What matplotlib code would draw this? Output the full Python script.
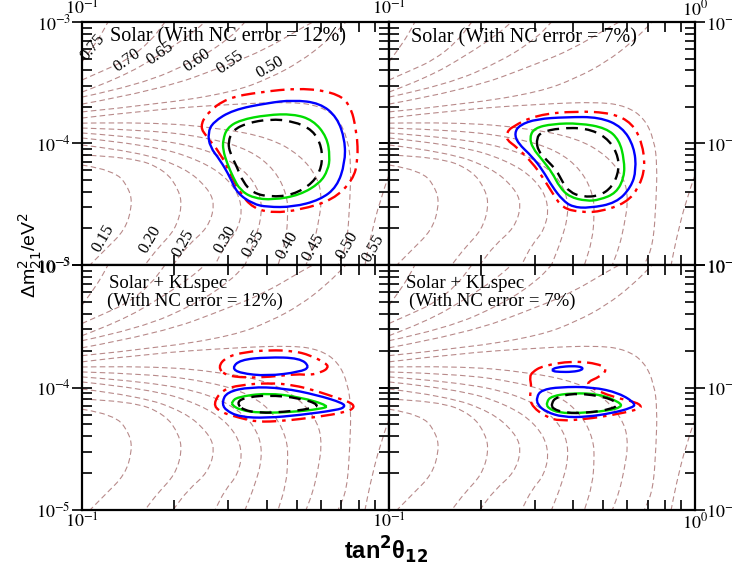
import numpy as np
import matplotlib
matplotlib.use("Agg")
import matplotlib.pyplot as plt
from matplotlib.path import Path
from matplotlib.patches import PathPatch
from matplotlib.ticker import FixedLocator, LogLocator, NullFormatter, FuncFormatter

plt.rcParams['font.family'] = ['Liberation Serif', 'DejaVu Serif']
plt.rcParams['mathtext.fontset'] = 'stix'

# iso-lignes de fond (tan^2 theta12, dm^2_21), identiques dans les 4 panneaux
iso_x = [
    [0.100, 0.1086, 0.1153, 0.1215],
    [0.100, 0.1188, 0.1402, 0.1665, 0.1864],
    [0.100, 0.1330, 0.1795, 0.2248, 0.2515],
    [0.100, 0.1545, 0.2370, 0.3035, 0.3396],
    [0.100, 0.1795, 0.3035, 0.3975, 0.5129, 0.5655],
    [0.100, 0.1795, 0.3104, 0.4096, 0.5129, 0.6234, 0.7244],
    [0.100, 0.1665, 0.3104, 0.4868, 0.5960, 0.6823, 0.7353, 0.7520, 0.7464, 0.7298, 0.6823],
    [0.100, 0.1665, 0.2817, 0.4096, 0.5129, 0.5871, 0.6050, 0.5871, 0.5655, 0.5366],
    [0.100, 0.1665, 0.2612, 0.3524, 0.4255, 0.4654, 0.4688, 0.4619, 0.4351],
    [0.100, 0.1665, 0.2612, 0.3396, 0.3801, 0.3858, 0.3661, 0.3396],
    [0.100, 0.1665, 0.2423, 0.3035, 0.3345, 0.3222, 0.2924, 0.2712],
    [0.100, 0.1545, 0.2166, 0.2570, 0.2712, 0.2570, 0.2215, 0.1979],
    [0.100, 0.1455, 0.1864, 0.2070, 0.2117, 0.2009, 0.1768, 0.1603],
    [0.100, 0.1281, 0.1434, 0.1455, 0.1380, 0.1188, 0.1062],
    [1.000, 0.9348, 0.8670, 0.8353],
]
iso_y = [
    [4.69e-4, 6.22e-4, 7.82e-4, 1e-3],
    [3.33e-4, 4.03e-4, 4.87e-4, 6.84e-4, 1e-3],
    [2.65e-4, 3.46e-4, 5.35e-4, 7.82e-4, 1e-3],
    [2.41e-4, 3.03e-4, 4.87e-4, 7.38e-4, 1e-3],
    [2.11e-4, 2.76e-4, 4.51e-4, 5.99e-4, 8.76e-4, 1e-3],
    [1.82e-4, 2.11e-4, 2.65e-4, 3.46e-4, 4.69e-4, 6.84e-4, 1e-3],
    [1.62e-4, 1.89e-4, 2.11e-4, 2.20e-4, 2.03e-4, 1.62e-4, 1.07e-4, 6.65e-5, 3.43e-5, 1.46e-5, 1e-5],
    [1.47e-4, 1.50e-4, 1.34e-4, 1.11e-4, 8.04e-5, 5.20e-5, 3.43e-5, 2.13e-5, 1.41e-5, 1e-5],
    [1.34e-4, 1.29e-4, 1.11e-4, 8.84e-5, 6.05e-5, 3.77e-5, 2.58e-5, 1.61e-5, 1e-5],
    [1.22e-4, 1.11e-4, 8.84e-5, 6.05e-5, 3.99e-5, 2.58e-5, 1.61e-5, 1e-5],
    [1.11e-4, 9.72e-5, 7.31e-5, 5.01e-5, 3.12e-5, 1.94e-5, 1.46e-5, 1e-5],
    [9.72e-5, 8.51e-5, 6.28e-5, 4.30e-5, 3.12e-5, 2.02e-5, 1.46e-5, 1e-5],
    [8.04e-5, 7.74e-5, 6.05e-5, 4.14e-5, 3.00e-5, 1.94e-5, 1.38e-5, 1e-5],
    [6.65e-5, 6.05e-5, 4.14e-5, 3.00e-5, 1.94e-5, 1.33e-5, 1e-5],
    [5.50e-5, 3.43e-5, 1.61e-5, 1e-5],
]

# etiquettes des iso-lignes (panneau haut gauche seulement)
lab_txt = ["0.75", "0.70", "0.65", "0.60", "0.55", "0.50",
           "0.15", "0.20", "0.25", "0.30", "0.35", "0.40", "0.45", "0.50", "0.55"]
lab_x = [0.1086, 0.1402, 0.1795, 0.2370, 0.3035, 0.4096,
         0.1171, 0.1665, 0.2133, 0.2924, 0.3606, 0.4654, 0.5655, 0.7298, 0.8871]
lab_y = [6.22e-4, 4.87e-4, 5.56e-4, 4.87e-4, 4.69e-4, 4.26e-4,
         1.67e-5, 1.61e-5, 1.52e-5, 1.61e-5, 1.52e-5, 1.46e-5, 1.41e-5, 1.46e-5, 1.38e-5]
lab_rot = [50, 35, 35, 35, 35, 30, 60, 60, 60, 60, 60, 60, 60, 60, 60]

# contours permis: rouge (tiret-point), bleu, vert, noir (tirets)
# panneau haut gauche : Solar, NC 12%
tl_red_x = [.2423, .2553, .2967, .3801, .5129, .6569, .7464, .7868, .7925, .7635, .6569, .5129, .4190, .3606, .3271, .3035, .2817, .2553]
tl_red_y = [1.37e-4, 1.78e-4, 2.37e-4, 2.65e-4, 2.86e-4, 2.65e-4, 2.15e-4, 1.22e-4, 7.31e-5, 5.01e-5, 3.43e-5, 2.84e-5, 2.68e-5, 2.94e-5, 3.91e-5, 5.71e-5, 8.35e-5, 1.13e-4]
tl_blue_x = [.2570, .2672, .3104, .4005, .4868, .5960, .6769, .7189, .7189, .6769, .5960, .4868, .4005, .3606, .3198, .3035, .2817, .2612]
tl_blue_y = [1.22e-4, 1.50e-4, 1.89e-4, 2.15e-4, 2.28e-4, 2.15e-4, 1.65e-4, 1.07e-4, 6.91e-5, 4.39e-5, 3.43e-5, 3.00e-5, 3.00e-5, 3.18e-5, 3.91e-5, 5.30e-5, 7.31e-5, 9.36e-5]
tl_green_x = [.2880, .2967, .3271, .4005, .4868, .5655, .6281, .6423, .6328, .5960, .5129, .4190, .3606, .3271, .3104, .2967, .2880]
tl_green_y = [1.07e-4, 1.34e-4, 1.56e-4, 1.72e-4, 1.75e-4, 1.56e-4, 1.13e-4, 7.74e-5, 6.05e-5, 4.73e-5, 3.77e-5, 3.43e-5, 3.56e-5, 4.14e-5, 5.30e-5, 6.91e-5, 8.84e-5]
tl_black_x = [.2989, .3104, .3447, .4096, .4868, .5655, .6050, .6050, .5655, .4868, .4096, .3606, .3345, .3198, .3035]
tl_black_y = [1.03e-4, 1.29e-4, 1.47e-4, 1.59e-4, 1.53e-4, 1.29e-4, 9.36e-5, 6.40e-5, 4.73e-5, 3.77e-5, 3.63e-5, 3.91e-5, 4.82e-5, 6.40e-5, 8.35e-5]

# panneau haut droit : Solar, NC 7%
tr_red_x = [.2516, .3035, .4096, .5366, .6234, .6719, .6873, .6569, .5960, .4868, .4190, .3689, .3421, .3174, .2944, .2612, .2423, .2423]
tr_red_y = [1.37e-4, 1.72e-4, 1.85e-4, 1.78e-4, 1.47e-4, 1.01e-4, 6.40e-5, 4.39e-5, 3.24e-5, 2.73e-5, 2.73e-5, 2.94e-5, 3.91e-5, 5.30e-5, 6.91e-5, 9.36e-5, 1.07e-4, 1.22e-4]
tr_blue_x = [.2570, .2672, .3035, .3801, .4868, .5783, .6328, .6423, .6187, .5530, .4516, .3975, .3689, .3421, .3174, .2944, .2633]
tr_blue_y = [1.22e-4, 1.42e-4, 1.59e-4, 1.65e-4, 1.65e-4, 1.37e-4, 9.36e-5, 6.05e-5, 4.39e-5, 3.24e-5, 2.94e-5, 3.00e-5, 3.43e-5, 4.39e-5, 6.05e-5, 7.74e-5, 1.01e-4]
tr_green_x = [.2880, .2989, .3421, .4190, .5129, .5655, .5871, .5871, .5530, .4868, .4416, .3887, .3606, .3421, .3174, .2944]
tr_green_y = [1.13e-4, 1.34e-4, 1.45e-4, 1.47e-4, 1.34e-4, 1.07e-4, 7.31e-5, 5.30e-5, 3.91e-5, 3.43e-5, 3.36e-5, 3.63e-5, 4.39e-5, 5.71e-5, 7.31e-5, 9.18e-5]
tr_black_x = [.3035, .3150, .3606, .4416, .5129, .5571, .5655, .5366, .4868, .4285, .3887, .3689, .3524, .3271, .3057]
tr_black_y = [1.11e-4, 1.24e-4, 1.34e-4, 1.34e-4, 1.13e-4, 8.35e-5, 6.05e-5, 4.39e-5, 3.70e-5, 3.63e-5, 3.99e-5, 4.82e-5, 6.05e-5, 7.31e-5, 8.84e-5]

# panneau bas gauche : Solar + KLspec, NC 12%
bl_red_up_x = [.2773, .2944, .3396, .4096, .4868, .5530, .6281, .6328, .6050, .5530, .5016, .4096, .3396, .2924]
bl_red_up_y = [1.47e-4, 1.77e-4, 1.95e-4, 2.02e-4, 1.99e-4, 1.84e-4, 1.56e-4, 1.44e-4, 1.34e-4, 1.26e-4, 1.29e-4, 1.22e-4, 1.20e-4, 1.26e-4]
bl_red_lo_x = [.2672, .2858, .3271, .4096, .4868, .5827, .6769, .7464, .7751, .7298, .5827, .4516, .3715, .3271, .2817]
bl_red_lo_y = [7.33e-5, 9.54e-5, 1.05e-4, 1.09e-4, 1.05e-4, 9.36e-5, 8.21e-5, 7.61e-5, 6.93e-5, 6.31e-5, 5.74e-5, 5.33e-5, 5.23e-5, 5.64e-5, 6.31e-5]
bl_blue_up_x = [.3080, .3271, .4005, .5129, .5530, .5129, .4005, .3271]
bl_blue_up_y = [1.44e-4, 1.68e-4, 1.77e-4, 1.74e-4, 1.47e-4, 1.34e-4, 1.24e-4, 1.31e-4]
bl_blue_lo_x = [.2858, .2967, .3524, .4516, .5827, .7080, .7189, .6769, .5129, .4005, .3271, .2924]
bl_blue_lo_y = [7.61e-5, 9.19e-5, 1.01e-4, 9.91e-5, 8.69e-5, 7.47e-5, 6.93e-5, 6.55e-5, 5.96e-5, 5.64e-5, 5.74e-5, 6.55e-5]
bl_green_x = [.3080, .3198, .4005, .5129, .6423, .5960, .4868, .3801, .3271, .3080]
bl_green_y = [7.61e-5, 8.36e-5, 9.02e-5, 8.36e-5, 7.06e-5, 6.68e-5, 6.31e-5, 6.19e-5, 6.55e-5, 7.20e-5]
bl_black_x = [.3198, .3345, .4005, .5129, .5960, .5530, .4516, .3801, .3345]
bl_black_y = [7.47e-5, 8.21e-5, 8.69e-5, 8.21e-5, 7.20e-5, 6.68e-5, 6.31e-5, 6.19e-5, 6.55e-5]

# panneau bas droit : Solar + KLspec, NC 7%
br_red_x = [.2944, .3174, .3975, .4868, .5168, .4868, .4449, .4516, .5366, .6423, .6719, .6423, .5366, .4416, .3606, .3271, .2944, .2880, .2924, .2880]
br_red_y = [1.34e-4, 1.50e-4, 1.65e-4, 1.56e-4, 1.39e-4, 1.22e-4, 1.11e-4, 1.01e-4, 8.36e-5, 7.61e-5, 6.93e-5, 6.55e-5, 5.96e-5, 5.53e-5, 5.33e-5, 5.74e-5, 6.93e-5, 8.36e-5, 1.01e-4, 1.22e-4]
br_blue_up_x = [.3421, .3606, .3975, .4285, .4285, .3975, .3606, .3421]
br_blue_up_y = [1.42e-4, 1.47e-4, 1.50e-4, 1.47e-4, 1.39e-4, 1.34e-4, 1.34e-4, 1.36e-4]
br_blue_lo_x = [.3035, .3150, .3606, .4619, .5655, .6423, .6187, .5366, .4416, .3689, .3271, .3057]
br_blue_lo_y = [8.36e-5, 9.54e-5, 1.01e-4, 1.01e-4, 9.02e-5, 7.33e-5, 6.80e-5, 6.19e-5, 5.74e-5, 5.74e-5, 6.31e-5, 7.20e-5]
br_green_x = [.3271, .3396, .3975, .4868, .5655, .5783, .5129, .4190, .3606, .3296]
br_green_y = [7.61e-5, 8.52e-5, 9.02e-5, 8.85e-5, 7.61e-5, 6.93e-5, 6.43e-5, 6.19e-5, 6.19e-5, 6.80e-5]
br_black_x = [.3396, .3524, .4096, .5129, .5655, .5366, .4416, .3801, .3421]
br_black_y = [7.47e-5, 8.36e-5, 9.02e-5, 8.36e-5, 7.33e-5, 6.68e-5, 6.19e-5, 6.19e-5, 6.68e-5]

# styles
STY = {
    "red": dict(edgecolor="#ff0000", lw=1.7, ls=(0, (6, 2.5, 1.5, 2.5))),
    "blue": dict(edgecolor="#0000ff", lw=1.7, ls="-"),
    "green": dict(edgecolor="#00dd00", lw=1.7, ls="-"),
    "black": dict(edgecolor="black", lw=1.7, ls=(0, (5, 3))),
    "iso": dict(edgecolor="#b88a8a", lw=0.8, ls=(0, (5, 3))),
}


def courbe(ax, xs, ys, key, closed=True, z=3):
    # trace lisse (bezier quadratique) a travers les points lus, dans l'espace log
    pts = list(zip(xs, ys))
    gm = lambda a, b: (np.sqrt(a[0] * b[0]), np.sqrt(a[1] * b[1]))
    if closed:
        n = len(pts)
        verts = [gm(pts[-1], pts[0])]
        codes = [Path.MOVETO]
        for i in range(n):
            verts += [pts[i], gm(pts[i], pts[(i + 1) % n])]
            codes += [Path.CURVE3, Path.CURVE3]
    else:
        verts = [pts[0]]
        codes = [Path.MOVETO]
        for i in range(1, len(pts) - 1):
            verts += [pts[i], gm(pts[i], pts[i + 1])]
            codes += [Path.CURVE3, Path.CURVE3]
        verts.append(pts[-1])
        codes.append(Path.LINETO)
    ax.add_patch(PathPatch(Path(verts, codes), fill=False, zorder=z,
                           transform=ax.transData, **STY[key]))


def expo(v, pos, skip_one=False):
    if skip_one and v > 0.5:
        return ""
    return r"$10^{%d}$" % int(round(np.log10(v)))


def prepare(ax, left, top):
    ax.set_xscale("log")
    ax.set_yscale("log")
    ax.set_xlim(0.1, 1.0)
    ax.set_ylim(1e-5, 1e-3)
    for xs, ys in zip(iso_x, iso_y):
        courbe(ax, xs, ys, "iso", closed=False, z=1)
    ax.xaxis.set_major_locator(FixedLocator([0.1, 1.0]))
    ax.yaxis.set_major_locator(FixedLocator([1e-5, 1e-4, 1e-3]))
    ax.xaxis.set_minor_locator(LogLocator(base=10, subs=np.arange(2, 10)))
    ax.yaxis.set_minor_locator(LogLocator(base=10, subs=np.arange(2, 10)))
    ax.xaxis.set_minor_formatter(NullFormatter())
    ax.yaxis.set_minor_formatter(NullFormatter())
    ax.xaxis.set_major_formatter(FuncFormatter(lambda v, p: expo(v, p, skip_one=left)))
    ax.yaxis.set_major_formatter(FuncFormatter(expo))
    ax.tick_params(which="both", direction="in", top=True, right=True,
                   labelsize=13, width=1.2)
    ax.tick_params(axis="y", which="major", direction="inout", length=14, pad=1)
    ax.tick_params(axis="x", which="major", length=3, pad=2)
    ax.tick_params(which="minor", length=7)
    ax.tick_params(labeltop=top, labelbottom=not top,
                   labelleft=left, labelright=not left)
    for s in ax.spines.values():
        s.set_linewidth(1.6)


fig = plt.figure(figsize=(7.32, 5.71), dpi=100)
x_l, x_r, w_l, w_r = 0.1120, 0.5314, 0.4194, 0.4181
y_b, y_t, h_b, h_t = 0.1068, 0.5359, 0.4291, 0.4256

ax_tl = fig.add_axes([x_l, y_t, w_l, h_t])
ax_tr = fig.add_axes([x_r, y_t, w_r, h_t])
ax_bl = fig.add_axes([x_l, y_b, w_l, h_b])
ax_br = fig.add_axes([x_r, y_b, w_r, h_b])

prepare(ax_tl, True, True)
prepare(ax_tr, False, True)
prepare(ax_bl, True, False)
prepare(ax_br, False, False)

for t, x, y, r in zip(lab_txt, lab_x, lab_y, lab_rot):
    ax_tl.text(x, y, t, rotation=r, fontsize=12, ha="center", va="center",
               clip_on=False, zorder=2)

courbe(ax_tl, tl_red_x, tl_red_y, "red")
courbe(ax_tl, tl_blue_x, tl_blue_y, "blue")
courbe(ax_tl, tl_green_x, tl_green_y, "green")
courbe(ax_tl, tl_black_x, tl_black_y, "black")

courbe(ax_tr, tr_red_x, tr_red_y, "red")
courbe(ax_tr, tr_blue_x, tr_blue_y, "blue")
courbe(ax_tr, tr_green_x, tr_green_y, "green")
courbe(ax_tr, tr_black_x, tr_black_y, "black")

courbe(ax_bl, bl_red_up_x, bl_red_up_y, "red")
courbe(ax_bl, bl_red_lo_x, bl_red_lo_y, "red")
courbe(ax_bl, bl_blue_up_x, bl_blue_up_y, "blue")
courbe(ax_bl, bl_blue_lo_x, bl_blue_lo_y, "blue")
courbe(ax_bl, bl_green_x, bl_green_y, "green")
courbe(ax_bl, bl_black_x, bl_black_y, "black")

courbe(ax_br, br_red_x, br_red_y, "red")
courbe(ax_br, br_blue_up_x, br_blue_up_y, "blue")
courbe(ax_br, br_blue_lo_x, br_blue_lo_y, "blue")
courbe(ax_br, br_green_x, br_green_y, "green")
courbe(ax_br, br_black_x, br_black_y, "black")

fs_t = 14.5
fs_b = 13.5
ax_tl.text(0.091, 0.938, "Solar (With NC error = 12%)", transform=ax_tl.transAxes,
           fontsize=fs_t, va="center", ha="left")
ax_tr.text(0.072, 0.935, "Solar (With NC error = 7%)", transform=ax_tr.transAxes,
           fontsize=fs_t, va="center", ha="left")
ax_bl.text(0.087, 0.924, "Solar + KLspec", transform=ax_bl.transAxes,
           fontsize=fs_b, va="center", ha="left")
ax_bl.text(0.081, 0.852, "(With NC error = 12%)", transform=ax_bl.transAxes,
           fontsize=fs_b, va="center", ha="left")
ax_br.text(0.056, 0.924, "Solar + KLspec", transform=ax_br.transAxes,
           fontsize=fs_b, va="center", ha="left")
ax_br.text(0.065, 0.852, "(With NC error = 7%)", transform=ax_br.transAxes,
           fontsize=fs_b, va="center", ha="left")

yl = fig.text(0.042, 0.553, "Δm$^2_{21}$/eV$^2$", rotation=90, fontsize=14,
              family="Liberation Sans", ha="center", va="center")
yl.set_math_fontfamily("dejavusans")
xl = fig.text(0.527, 0.036, r"tan$^{\mathbf{2}}$θ$_{\mathbf{12}}$", fontsize=17,
              family="Liberation Sans", weight="bold", ha="center", va="center")
xl.set_math_fontfamily("dejavusans")

fig.savefig("out.png", dpi=100)
